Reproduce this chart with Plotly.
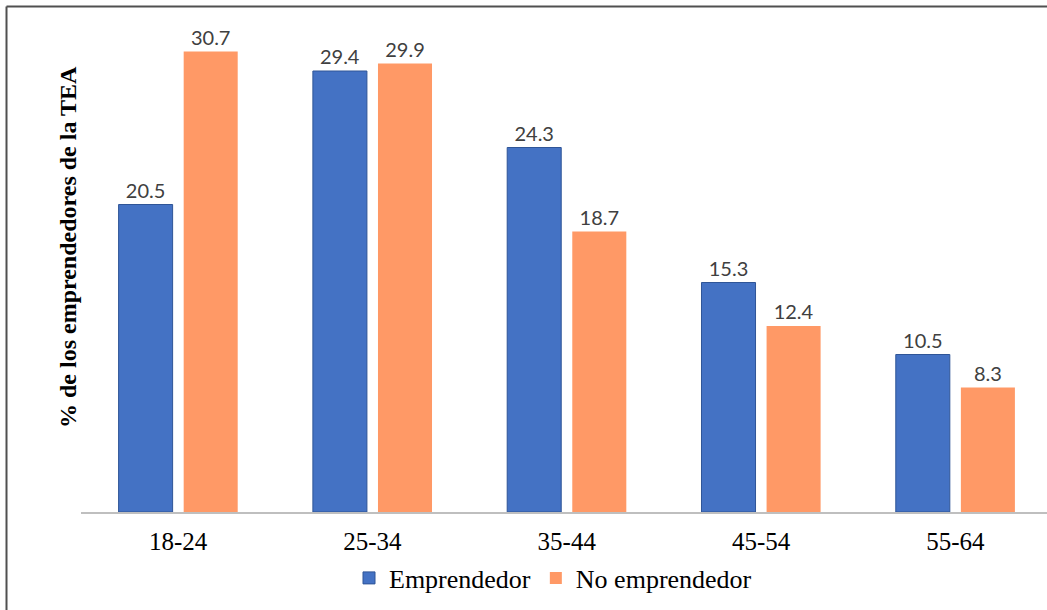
import plotly.graph_objects as go

categories = ["18-24", "25-34", "35-44", "45-54", "55-64"]
emprendedor = [20.5, 29.4, 24.3, 15.3, 10.5]
no_emprendedor = [30.7, 29.9, 18.7, 12.4, 8.3]
series_names = ["Emprendedor", "No emprendedor"]
y_title = "% de los emprendedores de la TEA"

W, H = 1047, 610
L, R, T, B = 81, 0, 20, 98
pw = W - L - R
ph = H - T - B

def px_x(p):
    return (p - L) / pw

def px_y(q):
    return (H - B - q) / ph

label_font = dict(family="Lato, Liberation Sans, sans-serif", size=20, color="#404040")

fig = go.Figure()
fig.add_bar(
    x=categories, y=emprendedor, name=series_names[0],
    marker=dict(color="#4472C4", line=dict(color="#2F5597", width=1)),
    text=[f"{v:.1f}" for v in emprendedor], textposition="outside",
    textfont=label_font, cliponaxis=False,
)
fig.add_bar(
    x=categories, y=no_emprendedor, name=series_names[1],
    marker=dict(color="#FF9966", line=dict(width=0)),
    text=[f"{v:.1f}" for v in no_emprendedor], textposition="outside",
    textfont=label_font, cliponaxis=False,
)

fig.update_layout(
    width=W, height=H,
    margin=dict(l=L, r=R, t=T, b=B, pad=0),
    paper_bgcolor="white", plot_bgcolor="white",
    barmode="group", bargap=0.33, bargroupgap=0.17,
    font=dict(family="Liberation Serif", size=24, color="#000000"),
    showlegend=True,
    legend=dict(orientation="h", x=px_x(553), xanchor="center", y=px_y(578), yanchor="middle",
                font=dict(family="Liberation Serif", size=26, color="#000000"),
                traceorder="normal"),
    xaxis=dict(range=[-0.5, -0.5 + pw / 194.3], showgrid=False, zeroline=False,
               showline=True, linecolor="#BFBFBF", linewidth=2, ticks="",
               ticklabelstandoff=6,
               tickfont=dict(family="Liberation Serif", size=25, color="#000000")),
    yaxis=dict(range=[0, ph / 15.0], showgrid=False, zeroline=False, showline=False,
               showticklabels=False, ticks=""),
    annotations=[dict(text=f"<b>{y_title}</b>", textangle=-90, x=px_x(68), y=px_y(247),
                      xref="paper", yref="paper", showarrow=False,
                      xanchor="center", yanchor="middle",
                      font=dict(family="Liberation Serif", size=24, color="#000000"))],
    shapes=[
        dict(type="line", xref="paper", yref="paper", x0=px_x(6.5), x1=px_x(6.5),
             y0=px_y(6.5), y1=px_y(615), line=dict(color="#505050", width=2)),
        dict(type="line", xref="paper", yref="paper", x0=px_x(6.5), x1=px_x(1050),
             y0=px_y(6.5), y1=px_y(6.5), line=dict(color="#505050", width=2)),
    ],
)

fig.write_html("out.html", config={"displayModeBar": False},
               post_script="document.body.style.margin='0';document.body.style.overflow='hidden';")
